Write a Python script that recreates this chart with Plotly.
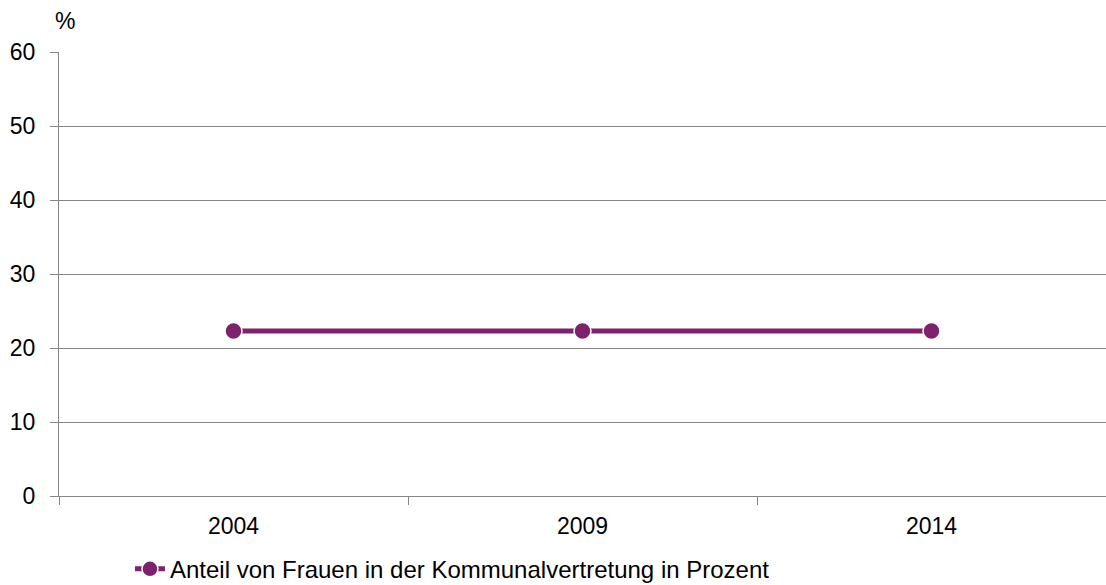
import plotly.graph_objects as go

# Wahljahre und Frauenanteil in der Kommunalvertretung
jahre = ["2004", "2009", "2014"]
anteil_frauen = [22.3, 22.3, 22.3]
serie_name = "Anteil von Frauen in der Kommunalvertretung in Prozent"
y_ticks = [0, 10, 20, 30, 40, 50, 60]

LILA = "#7E226C"
GRAU = "#868686"
SCHRIFT = "Liberation Sans, Arial, sans-serif"
GROESSE = 23

fig = go.Figure()
fig.add_trace(go.Scatter(
    x=jahre,
    y=anteil_frauen,
    mode="lines+markers",
    name=serie_name,
    line=dict(color=LILA, width=5),
    marker=dict(size=17, color=LILA, line=dict(color="white", width=1.5)),
    showlegend=True,
))

fig.update_layout(
    width=1106,
    height=585,
    margin=dict(l=59, r=0, t=52, b=89),
    paper_bgcolor="white",
    plot_bgcolor="white",
    font=dict(family=SCHRIFT, size=GROESSE, color="black"),
    showlegend=True,
    legend=dict(
        orientation="h",
        xref="container", yref="container",
        x=0.1175, y=0.027,
        xanchor="left", yanchor="middle",
        font=dict(size=24),
        itemwidth=30,
        tracegroupgap=0,
        borderwidth=0,
    ),
    xaxis=dict(
        type="category",
        range=[-0.5, 2.5],
        tickson="boundaries",
        ticks="outside",
        ticklen=8,
        tickcolor=GRAU,
        tickwidth=1,
        showgrid=False,
        showline=True,
        linecolor=GRAU,
        linewidth=1,
        ticklabelstandoff=9,
        tickfont=dict(size=GROESSE),
    ),
    yaxis=dict(
        range=[0, 60],
        tickvals=y_ticks,
        ticks="outside",
        ticklen=8,
        tickcolor=GRAU,
        showgrid=True,
        gridcolor=GRAU,
        gridwidth=1,
        showline=True,
        linecolor=GRAU,
        linewidth=1,
        zeroline=False,
        ticklabelstandoff=10,
        tickfont=dict(size=GROESSE),
    ),
    annotations=[dict(
        text="%",
        xref="paper", yref="paper",
        x=0, y=1,
        xanchor="left", yanchor="bottom",
        xshift=-6, yshift=16,
        showarrow=False,
        font=dict(size=GROESSE, family=SCHRIFT),
    )],
)

fig.write_html("out.html")
